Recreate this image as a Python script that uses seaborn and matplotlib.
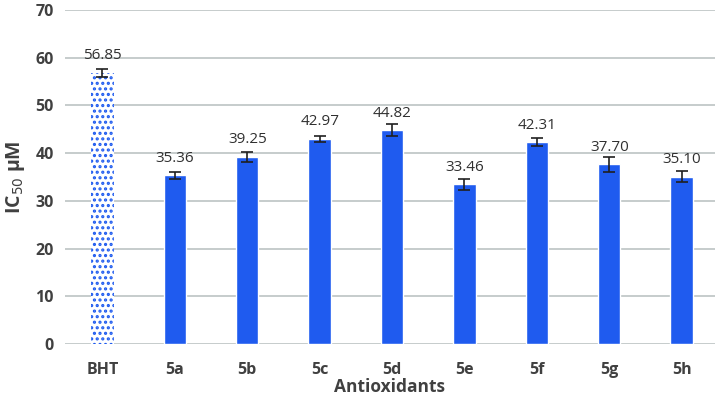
import numpy as np
import pandas as pd
import matplotlib
matplotlib.use('Agg')
import matplotlib.pyplot as plt
import seaborn as sns

# data
compounds = ['BHT', '5a', '5b', '5c', '5d', '5e', '5f', '5g', '5h']
ic50 = [56.85, 35.36, 39.25, 42.97, 44.82, 33.46, 42.31, 37.70, 35.10]
err = [0.8, 0.8, 1.0, 0.6, 1.2, 1.2, 0.8, 1.6, 1.2]

df = pd.DataFrame({'Compound': compounds, 'IC50': ic50, 'err': err})

sns.set_style('white')
plt.rcParams['font.family'] = ['Open Sans', 'DejaVu Sans']
plt.rcParams['hatch.linewidth'] = 1.5

blue = '#1f5bef'
txt = '#404040'

fig = plt.figure(figsize=(7.2, 4.01), dpi=100)
ax = fig.add_axes([0.090, 0.142, 0.903, 0.833])

sns.barplot(data=df, x='Compound', y='IC50', color=blue, saturation=1,
            width=0.31, ax=ax, errorbar=None, zorder=3)

# BHT bar drawn as dotted pattern
bht = ax.patches[0]
bht.set_facecolor('white')
bht.set_edgecolor(blue)
bht.set_hatch('...')
bht.set_linewidth(0)

ax.errorbar(np.arange(len(compounds)), df['IC50'], yerr=df['err'], fmt='none',
            ecolor='#202020', elinewidth=1.2, capsize=4, capthick=1.2, zorder=4)

for i, v in enumerate(ic50):
    ax.text(i, v + 2.0, f'{v:.2f}', ha='center', va='bottom',
            fontsize=11, color='#303030')

ax.set_ylim(0, 70)
ax.set_xlim(-0.52, 8.46)
ax.set_yticks(range(0, 71, 10))
ax.yaxis.grid(True, color='#bcc4c4', linewidth=1.2, zorder=0)
ax.set_axisbelow(True)
for s in ax.spines.values():
    s.set_visible(False)
ax.tick_params(axis='both', length=0, labelsize=11.5, colors=txt, pad=8)
ax.tick_params(axis='x', pad=13)
for lab in ax.get_xticklabels() + ax.get_yticklabels():
    lab.set_fontweight('bold')

ax.set_ylabel('IC$_{50}$ μM', fontsize=14, fontweight='bold', color=txt, labelpad=6)
ax.set_xlabel('Antioxidants', fontsize=12.5, fontweight='bold', color=txt, labelpad=0)

fig.savefig('out.png', dpi=100)
